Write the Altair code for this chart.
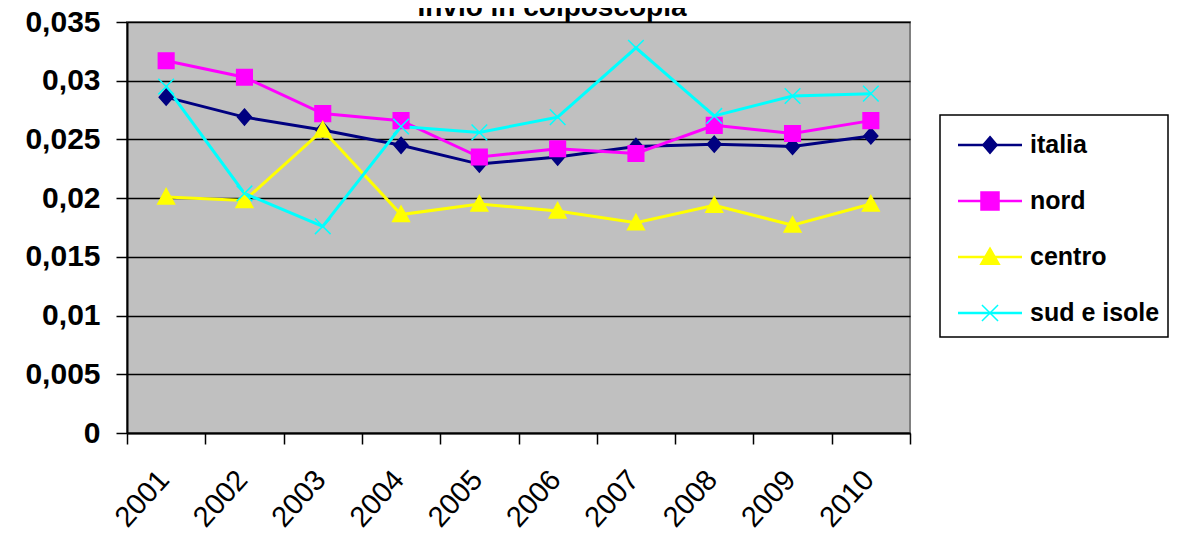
import altair as alt
import pandas as pd

title_text = "Invio in colposcopia"
years = ["2001", "2002", "2003", "2004", "2005", "2006", "2007", "2008", "2009", "2010"]
series_names = ["italia", "nord", "centro", "sud e isole"]
italia = [0.0286, 0.0269, 0.0258, 0.0245, 0.0229, 0.0235, 0.0244, 0.0246, 0.0244, 0.0253]
nord = [0.0317, 0.0303, 0.0272, 0.0266, 0.0235, 0.0242, 0.0238, 0.0262, 0.0255, 0.0266]
centro = [0.0201, 0.0198, 0.0258, 0.0186, 0.0195, 0.0189, 0.0179, 0.0194, 0.0177, 0.0195]
sud = [0.0295, 0.0204, 0.0176, 0.0261, 0.0256, 0.0269, 0.0328, 0.0270, 0.0287, 0.0289]
colors = ["#000080", "#ff00ff", "#ffff00", "#00ffff"]
y_ticks = [0, 0.005, 0.01, 0.015, 0.02, 0.025, 0.03, 0.035]

rows = []
for name, vals in zip(series_names, [italia, nord, centro, sud]):
    for yr, v in zip(years, vals):
        rows.append({"anno": yr, "serie": name, "valore": v})
df = pd.DataFrame(rows)
legend_df = pd.DataFrame({"serie": series_names})
box_df = pd.DataFrame({"k": [0]})

FONT = "Liberation Sans"

x_enc = alt.X(
    "anno:N",
    sort=years,
    scale=alt.Scale(paddingInner=0, paddingOuter=0),
    axis=alt.Axis(
        title=None,
        tickBand="extent",
        labelAngle=-48,
        labelAlign="right",
        labelBaseline="top",
        labelPadding=21,
        labelOffset=-13,
        labelFontSize=29,
        labelFont=FONT,
        labelColor="#000000",
        tickColor="#000000",
        tickSize=11,
        tickWidth=1.5,
        domainColor="#000000",
        domainWidth=2,
        grid=False,
    ),
)
y_scale = alt.Scale(domain=[0, 0.035], nice=False)
y_enc = alt.Y(
    "valore:Q",
    scale=y_scale,
    axis=alt.Axis(
        title=None,
        values=y_ticks,
        labelExpr="replace(format(datum.value, '~g'), '.', ',')",
        labelFontSize=30,
        labelFontWeight="bold",
        labelFont=FONT,
        labelColor="#000000",
        labelPadding=16,
        tickColor="#000000",
        tickSize=11,
        tickWidth=1.5,
        domainColor="#000000",
        domainWidth=2,
        grid=True,
        gridColor="#000000",
        gridWidth=1.6,
    ),
)

color_scale = alt.Scale(domain=series_names, range=colors)

# marker paths (unit = 12 px at size 576)
plot_shapes = [
    "M0,-0.667L0.58,0L0,0.667L-0.58,0Z",
    "M-0.65,-0.65H0.65V0.65H-0.65Z",
    "M0,-0.7L0.7,0.58H-0.7Z",
    "M-0.65,-0.65L0.65,0.65M-0.65,0.65L0.65,-0.65",
]
legend_marker_shapes = [
    "M0,-0.7L0.6,0L0,0.7L-0.6,0Z",
    "M-0.75,-0.75H0.75V0.75H-0.75Z",
    "M0,-0.75L0.78,0.6H-0.78Z",
    "M-0.67,-0.67L0.67,0.67M-0.67,0.67L0.67,-0.67",
]

lines = alt.Chart(df).mark_line(strokeWidth=3).encode(
    x=x_enc,
    y=y_enc,
    color=alt.Color("serie:N", scale=color_scale, legend=None),
    detail="serie:N",
)

point_layers = []
for name, shp, col in zip(series_names, plot_shapes, colors):
    point_layers.append(
        alt.Chart(df)
        .transform_filter(alt.datum.serie == name)
        .mark_point(shape=shp, size=576, fill=col, stroke=col, strokeWidth=1.5, opacity=1, filled=False)
        .encode(x=x_enc, y=y_enc)
    )

plot = alt.layer(lines, *point_layers)

# ---- legend (box, line samples, markers, labels) ----
leg_y = alt.Y(
    "serie:N",
    sort=series_names,
    scale=alt.Scale(type="point", domain=series_names, range=[123, 291], padding=0),
    axis=None,
)
leg_box = alt.Chart(box_df).mark_rect(fill="#ffffff", stroke="#000000", strokeWidth=1.5).encode(
    x=alt.value(813), x2=alt.value(1041), y=alt.value(93), y2=alt.value(315)
)
leg_lines = alt.Chart(legend_df).mark_rule(strokeWidth=2.5).encode(
    x=alt.value(831),
    x2=alt.value(895),
    y=leg_y,
    color=alt.Color("serie:N", scale=color_scale, legend=None),
)
leg_marks = alt.Chart(legend_df).mark_point(size=576, strokeWidth=1.5, opacity=1).encode(
    x=alt.value(863),
    y=leg_y,
    fill=alt.Fill("serie:N", scale=color_scale, legend=None),
    stroke=alt.Stroke("serie:N", scale=color_scale, legend=None),
    shape=alt.Shape("serie:N", scale=alt.Scale(domain=series_names, range=legend_marker_shapes), legend=None),
)
leg_text = alt.Chart(legend_df).mark_text(
    align="left", baseline="middle", fontSize=25, fontWeight="bold", font=FONT, color="#000000"
).encode(x=alt.value(903), y=leg_y, text="serie:N")

# chart title, partly cut off at the top edge as in the reference
title_mark = alt.Chart(box_df).mark_text(
    text=title_text,
    align="center",
    baseline="alphabetic",
    fontSize=28,
    fontWeight="bold",
    font=FONT,
    color="#000000",
).encode(x=alt.value(425), y=alt.value(-6))

legend = alt.layer(leg_box, leg_lines, leg_marks, leg_text, title_mark)

chart = (
    alt.layer(plot, legend)
    .resolve_scale(y="independent")
    .properties(
        width=783,
        height=411,
        autosize=alt.AutoSizeParams(type="none"),
        padding={"left": 119, "top": 14, "right": 260, "bottom": 103},
    )
    .configure_view(fill="#c0c0c0", stroke="#808080", strokeWidth=2)
)

chart.save("out.html", embed_options={"renderer": "svg", "actions": False})
